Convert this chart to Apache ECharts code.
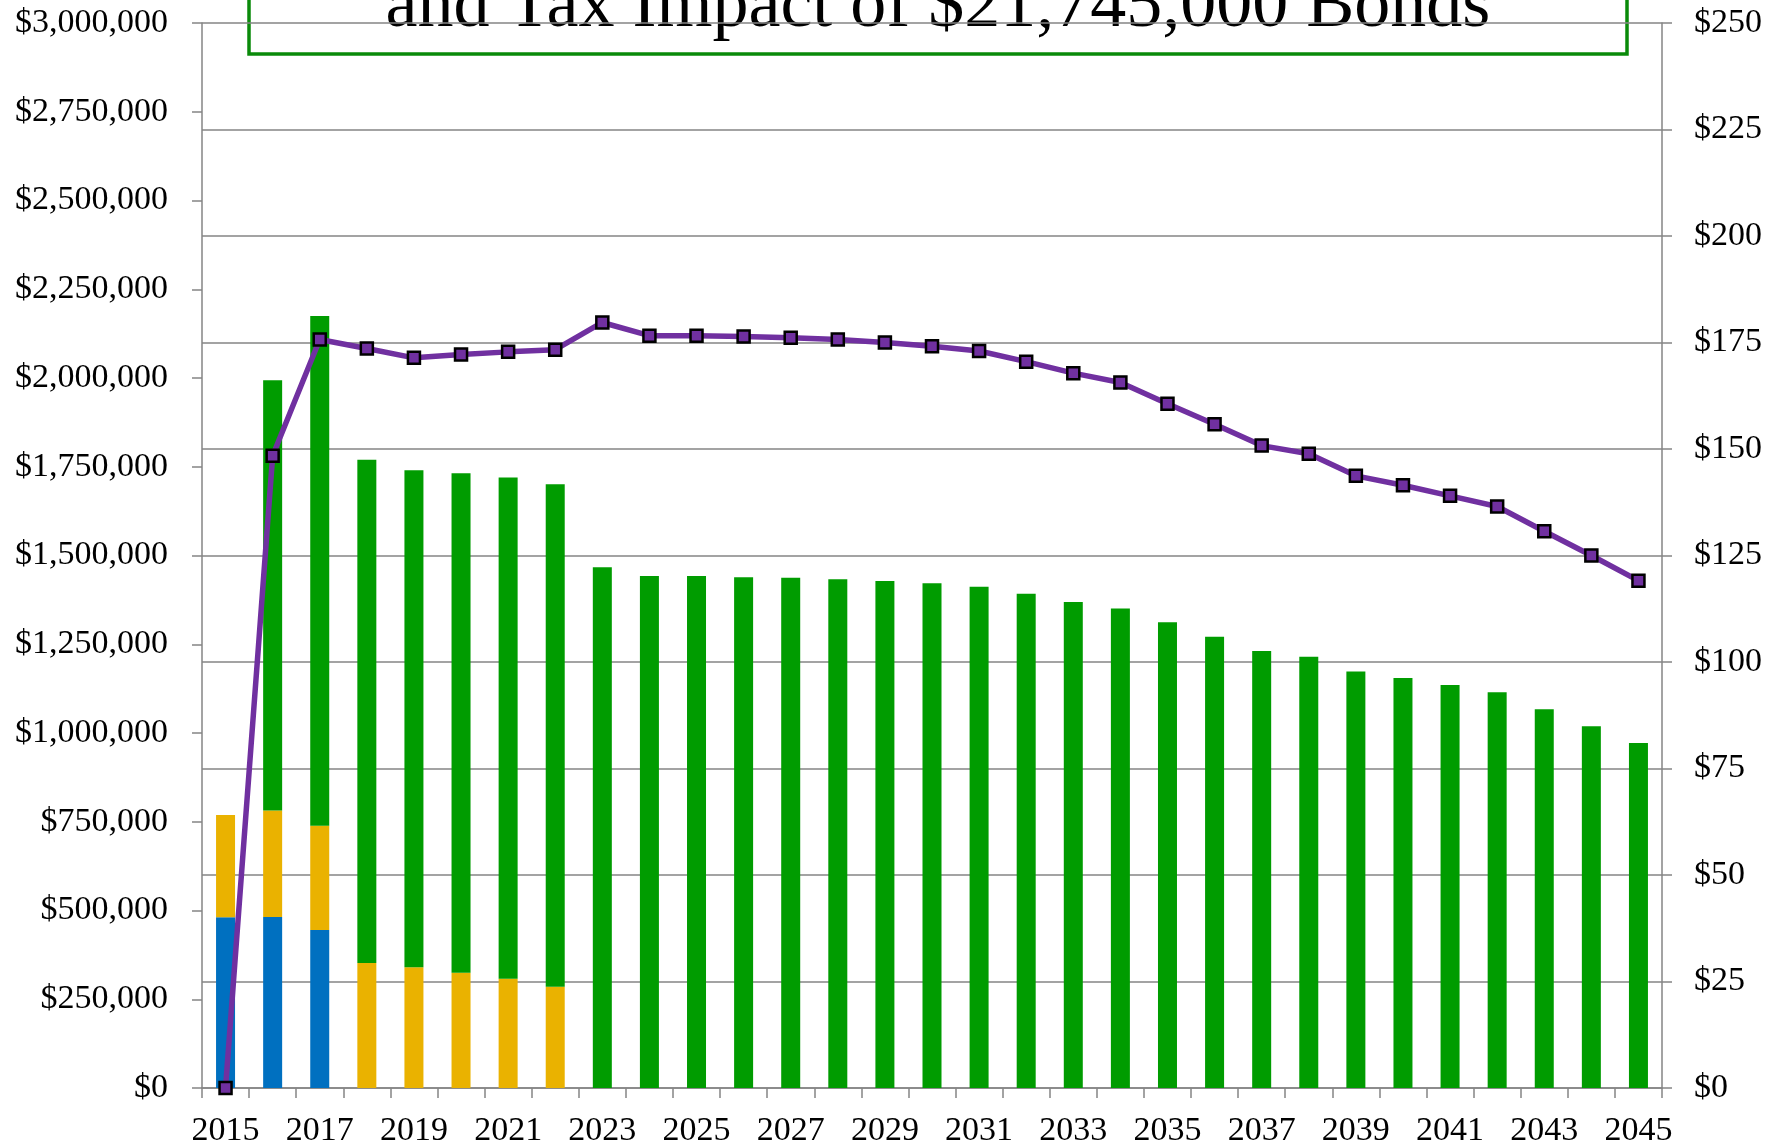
<!DOCTYPE html>
<html>
<head>
<meta charset="utf-8">
<title>Tax Impact of Bonds</title>
<script src="https://cdn.jsdelivr.net/npm/echarts@6/dist/echarts.min.js"></script>
<style>
  html, body { margin: 0; padding: 0; background: #fff; }
  #chart { width: 1784px; height: 1148px; }
</style>
</head>
<body>
<div id="chart"></div>
<script>
// fiscal years on the x axis
const years = ['2015', '2016', '2017', '2018', '2019', '2020', '2021', '2022', '2023', '2024',
  '2025', '2026', '2027', '2028', '2029', '2030', '2031', '2032', '2033', '2034',
  '2035', '2036', '2037', '2038', '2039', '2040', '2041', '2042', '2043', '2044', '2045']

// debt service pieces (left axis, dollars)
const blueSeries = [481000, 482000, 445000, 0, 0, 0, 0, 0, 0, 0,
  0, 0, 0, 0, 0, 0, 0, 0, 0, 0,
  0, 0, 0, 0, 0, 0, 0, 0, 0, 0, 0]
const orangeSeries = [288000, 300000, 294000, 352000, 340000, 325000, 308000, 285000, 0, 0,
  0, 0, 0, 0, 0, 0, 0, 0, 0, 0,
  0, 0, 0, 0, 0, 0, 0, 0, 0, 0, 0]
const greenSeries = [0, 1212000, 1436000, 1418000, 1400000, 1407000, 1412000, 1416000, 1467000, 1442000,
  1442000, 1439000, 1437000, 1433000, 1428000, 1422000, 1412000, 1392000, 1369000, 1351000,
  1312000, 1271000, 1231000, 1215000, 1173000, 1155000, 1135000, 1115000, 1067000, 1019000, 972000]

// tax impact (right axis, dollars)
const taxImpact = [0, 148.4, 175.7, 173.6, 171.4, 172.2, 172.8, 173.3, 179.7, 176.6,
  176.6, 176.4, 176.1, 175.7, 175.0, 174.1, 173.0, 170.5, 167.8, 165.6,
  160.6, 155.8, 150.8, 148.9, 143.7, 141.5, 139.0, 136.5, 130.7, 125.0, 119.1]

// axis ranges
const leftAxis = { min: 0, max: 3000000, interval: 250000 }
const rightAxis = { min: 0, max: 250, interval: 25 }

const titleText = 'and Tax Impact of $21,745,000 Bonds'

const font = 'Liberation Serif'
const gray = '#858585'

const chart = echarts.init(document.getElementById('chart'))

chart.setOption({
  animation: false,
  backgroundColor: '#fff',
  textStyle: { fontFamily: font },
  grid: {
    left: 202,
    right: 122,
    top: 23,
    bottom: 60
  },
  // title box, its first line sits above the picture
  graphic: [{
    type: 'group',
    z: 100,
    children: [{
      type: 'rect',
      shape: { x: 249, y: -20, width: 1378, height: 74 },
      style: { fill: '#fff', stroke: '#0a8a0a', lineWidth: 3.5 }
    }, {
      type: 'text',
      x: 938,
      y: 7,
      style: {
        text: titleText,
        font: '72px "Liberation Serif"',
        fill: '#000',
        align: 'center',
        verticalAlign: 'middle'
      }
    }]
  }],
  xAxis: {
    type: 'category',
    data: years,
    boundaryGap: true,
    axisLine: { lineStyle: { color: gray, width: 1.5 } },
    axisTick: { show: true, interval: 0, length: 10, lineStyle: { color: gray, width: 1.5 } },
    axisLabel: {
      interval: 1,
      color: '#000',
      fontFamily: font,
      fontSize: 34,
      margin: 26
    },
    splitLine: { show: false }
  },
  yAxis: [{
    type: 'value',
    position: 'left',
    min: leftAxis.min,
    max: leftAxis.max,
    interval: leftAxis.interval,
    axisLine: { show: true, lineStyle: { color: gray, width: 1.5 } },
    axisTick: { show: true, length: 10, lineStyle: { color: gray, width: 1.5 } },
    axisLabel: {
      color: '#000',
      fontFamily: font,
      fontSize: 34,
      margin: 34,
      formatter: v => '$' + v.toLocaleString('en-US')
    },
    splitLine: { show: false }
  }, {
    type: 'value',
    position: 'right',
    min: rightAxis.min,
    max: rightAxis.max,
    interval: rightAxis.interval,
    axisLine: { show: true, lineStyle: { color: gray, width: 1.5 } },
    axisTick: { show: true, length: 10, lineStyle: { color: gray, width: 1.5 } },
    axisLabel: {
      color: '#000',
      fontFamily: font,
      fontSize: 34,
      margin: 32,
      formatter: v => '$' + v
    },
    splitLine: { show: true, lineStyle: { color: gray, width: 1.5 } }
  }],
  series: [{
    name: 'Existing',
    type: 'bar',
    stack: 'debt',
    barWidth: 19,
    itemStyle: { color: '#0070c0' },
    data: blueSeries
  }, {
    name: 'Interim',
    type: 'bar',
    stack: 'debt',
    barWidth: 19,
    itemStyle: { color: '#eab200' },
    data: orangeSeries
  }, {
    name: 'Bonds',
    type: 'bar',
    stack: 'debt',
    barWidth: 19,
    itemStyle: { color: '#009c00' },
    data: greenSeries
  }, {
    name: 'Tax Impact',
    type: 'line',
    yAxisIndex: 1,
    z: 10,
    symbol: 'rect',
    symbolSize: 12,
    showAllSymbol: true,
    lineStyle: { color: '#7030a0', width: 5.5 },
    itemStyle: { color: '#7030a0', borderColor: '#000', borderWidth: 2.5 },
    data: taxImpact
  }]
})
</script>
</body>
</html>
